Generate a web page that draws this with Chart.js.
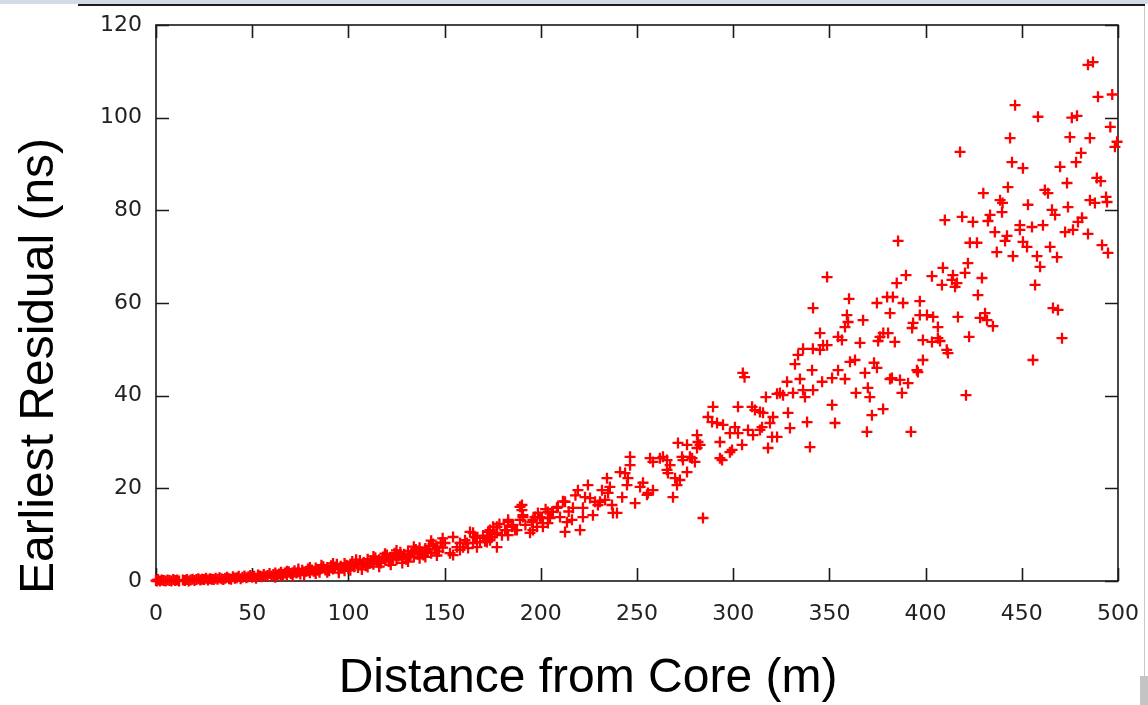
<!DOCTYPE html>
<html>
<head>
<meta charset="utf-8">
<script src="https://cdn.jsdelivr.net/npm/chart.js@4/dist/chart.umd.min.js"></script>
<style>
  html, body { margin: 0; padding: 0; background: #fff; }
  #wrap { position: relative; width: 1148px; height: 705px; overflow: hidden; }
  #topBand { position: absolute; left: 0; top: 0; width: 1148px; height: 4px; background: #d3dbe7; }
  #topRule { position: absolute; left: 78px; top: 4px; width: 1067px; height: 2px; background: #1e1e1e; }
  #rightEdge { position: absolute; left: 1144px; top: 6px; width: 1px; height: 699px; background: #c9c9c9; }
  #cornerBox { position: absolute; left: 1140px; top: 676px; width: 8px; height: 29px; background: #c4c4c4; }
  canvas { position: absolute; left: 0; top: 0; }
</style>
</head>
<body>
<div id="wrap">
  <canvas id="chart" width="1148" height="705"></canvas>
  <div id="topBand"></div>
  <div id="topRule"></div>
  <div id="rightEdge"></div>
  <div id="cornerBox"></div>
</div>
<script>
// distance from core (m), earliest residual (ns)
const innerPoints = [
  [0,0.1],[0.5,0],[1,0.3],[2,0],[3,0.2],[4,0.1],[5,0],[6,0.2],[7,0.1],[8,0],[9,0.3],[10,0.1],
  [11,0.2],[12,0],[14,0.2],[15,0.1],[16,0.3],[17,0],[18,0.2],[19,0.4],[20,0.1],[21,0.3],[22,0.5],
  [23,0.2],[24,0.4],[25,0.3],[26,0.6],[27,0.2],[28,0.5],[29,0.4],[30,0.3],[31,0.6],[32,0.4],
  [33,0.7],[34,0.5],[35,0.3],[36,0.6],[37,0.8],[38,0.5],[39,0.4],[40,0.9],[41,0.6],[42,0.7],
  [43,1.0],[44,0.5],[45,0.8],[46,1.1],[47,0.7],[48,0.9],[49,1.2],[50,0.8],[51,1.0],[52,0.6],
  [53,1.3],[54,1.1],[55,0.9],[56,1.4],[57,1.0],[58,1.2],[59,1.6],[60,1.1],[61,1.4],[62,1.7],
  [63,1.3],[64,1.5],[65,1.9],[66,1.4],[67,1.7],[68,1.3],[69,2.0],[70,1.6],[71,1.8],[72,2.2],
  [73,1.7],[74,2.0],[75,1.5],[76,2.3],[77,1.9],[78,2.1],[79,2.6],[80,1.8],[81,2.4],[82,2.1],
  [83,2.8],[84,2.3],[85,1.9],[86,2.7],[87,3.1],[88,2.4],[89,2.9],[90,2.2],[91,3.3],[92,2.6],
  [93,3.0],[94,3.6],[95,2.5],[96,3.2],[97,2.9],[98,3.8],[99,3.4],[100,2.7],[101,3.6],[102,4.2],
  [103,3.1],[104,3.9],[105,2.9],[106,4.4],[107,3.5],[108,4.0],[109,3.3],[110,4.7],[111,3.8],
  [112,4.3],[113,3.6],[114,5.0],[115,4.1],[116,4.6],[117,3.9],[118,5.2],[119,4.5],[120,5.6],
  [121,4.2],[122,5.1],[123,4.8],[124,6.0],[125,4.6],[126,5.4],[127,6.2],[128,5.0],[129,5.8],
  [130,4.7],[131,6.5],[132,5.5],[133,6.1],[134,5.2],[135,6.8],[136,5.8],[137,7.2],[138,6.3],
  [139,5.6],[140,7.0],[141,6.5],[142,7.6],[143,6.0],[144,8.0],[145,6.9],[146,7.4],[147,6.4],
  [148,8.3],[149,7.2],
  [62,0.8],[65,1.2],[68,2.1],[71,1.0],[74,2.6],[77,1.3],[80,2.9],[83,1.6],[86,3.4],[89,1.9],
  [92,3.8],[95,1.8],[98,2.2],[101,2.3],[104,4.6],[107,2.5],[110,3.0],[113,5.3],[116,3.1],
  [119,5.9],[122,3.5],[125,6.6],[128,3.9],[131,4.2],[134,7.4],[137,4.9],[140,5.2],[143,8.7],
  [146,5.5],[149,9.2]
];

const middlePoints = [
  [150.2,8.2],[152.8,6],[154.4,9.5],[154.4,5.6],[156.4,7.3],[158,8.2],[158,6.7],[159.6,7.3],
  [160.6,8.8],[161.6,8.2],[162.2,7.1],[163.2,10.6],[164.8,8.2],[164.8,10.4],[165.8,9.5],
  [166.8,9.3],[166.8,7.3],[168.4,8.4],[170,9.8],[171,8.6],[172,8.4],[172,9.3],[172.6,10.6],
  [173.6,11],[173.6,8.8],[174.6,9.5],[175.2,11.7],[176,10.2],[177.2,11.7],[177.2,7.3],
  [177.2,10.4],[178.5,12.3],[179.8,9.9],[181.4,11],[182.4,11],[183,12.7],[183,13.2],[183,9.9],
  [185,11.7],[185.6,12.1],[186.6,11],[187.6,11],[189.2,16],[189.2,13.2],[190.2,16.4],
  [190.2,15.3],[190.7,14.2],[190.7,13.8],[192,12.1],[194.4,10.4],[195.4,12.7],[195.9,13.2],
  [195.9,11],[197,13.8],[198,11.7],[198.5,14.7],[199.6,13.8],[200.6,13.6],[201.1,12.5],
  [201.1,11.7],[202.5,15.5],[203.7,14.9],[203.7,12.5],[204.8,13.6],[205.8,14.9],[206.3,14.9],
  [208.4,15.8],[208.9,16],[210,13.8],[211.5,17.2],[212.6,17.1],[212.6,10.6],[213.6,12.7],
  [214.5,15],[216.2,13.2],[216.7,15.8],[218,18.5],[219.3,19.6],[220.4,11],[221.9,15.8],
  [221.9,13.8],[223,18.1],[224.5,20.7],[225.6,17.9],[227.1,14.2],[228.2,17.1],[229.7,16.4],
  [230.8,17.1],[231.8,19.6],[233.4,17.5],[234.4,22.2],[235,19],[235.9,20.3],[237,16.4],
  [237.5,14.7],[239.6,14.7],[241.2,23.5],[242.3,18.1],[243.8,23.3],[244.8,20.7],[245.3,22.2],
  [246.4,26.8],[246.4,25],[249,16.8],[251.6,20.3],[253.1,21.2],[255.2,18.6],[255.7,19],
  [256.8,26.5],[258.3,25.7],[258.3,19.6],[261.9,26.5],[263.5,26.8],[265.6,26.1],[265.6,24],
  [266.1,23.3],[267.2,25],[268.7,18.1],[269.8,22.2],[270.8,20.7],[271.3,29.8],[272.3,21.8],
  [273.4,26.8],[273.9,26.1],[276,29.4],[276,23.5],[277.5,26.8],[278.6,26.5],[280.1,25.7],
  [281.2,31.5],[281.2,28.7],[281.7,30],[282.8,29.4],[284.3,13.6],[286.9,35.4],[289,34.3],
  [289.5,37.6],[291.6,34.1],[293.1,30],[293.1,26.5],[294.2,26.1],[294.7,33.7],[298.3,31.9],
  [298.3,27.8],[299.4,28.3]
];

const outerPoints = [
  [300.9,33.2],[302.5,37.6],[302.5,31.9],[304.6,29.4],[305,44.9],[305.9,44],[307.7,32.6],
  [309.8,37.6],[310.3,31.5],[311.3,36.9],[313.9,36.5],[313.9,32.6],[315,33.2],[315.5,36.3],
  [317,39.7],[318.1,28.7],[319.1,34.1],[320.2,31.1],[320.7,35.4],[322.8,31.1],[322.8,40.4],
  [324.3,40.6],[325.9,40.1],[328,43],[328.5,36.3],[329.5,33],[331.1,40.6],[332.1,46.8],
  [333.7,48.8],[334.7,43.6],[336.3,50.1],[336.3,41.2],[337.3,39.7],[338.4,34.3],[339.9,28.9],
  [341,45.5],[341.5,58.9],[341.5,41.2],[341.4,50.1],[345.1,53.5],[345.1,49.9],[346.2,43],
  [346.7,50.9],[348.8,65.6],[348.8,50.9],[351.4,43.8],[351.4,38],[352.9,34.1],[354.5,52.7],
  [354.5,45.5],[356.5,52],[358.1,54.8],[358.1,43.6],[359.1,57.4],[359.7,55.9],[360.2,60.9],
  [360.7,47.3],[363.3,47.7],[363.8,40.6],[365.9,51.4],[367.5,56.3],[368.5,44.9],[369.5,32.2],
  [370,41.7],[371,39.7],[372.1,35.8],[373.2,47.1],[374.7,60],[374.7,46],[375.3,51.8],
  [376.3,52.7],[377.9,37.1],[378,53.5],[380,61.3],[380.5,53.5],[381.5,57.8],[381.5,43.6],
  [382.5,43.8],[383,61.3],[384,51.6],[385,64.3],[385.7,73.4],[386.7,43.4],[387.7,40.6],
  [388.3,60],[389.8,66],[390.9,42.7],[392.4,32.2],[393,54.6],[393.5,55.7],[395.5,45.5],
  [396,45.1],[397,60.4],[397,57.4],[398.6,52],[398.6,47.7],[400.7,57.4],[403.3,65.8],
  [403.3,51.6],[403.9,57],[406.4,54.8],[406.4,52.4],[407.5,51.8],[408.5,63.9],[409,67.6],
  [410,77.9],[411,49.9],[411.6,49.2],[413.7,65],[414.2,66],[415.3,63.5],[416.3,64.3],
  [416.8,57],[417.9,92.6],[419,78.6],[420.5,66.5],[421,40.1],[422,68.6],[422.6,52.7],[423,73],
  [424.6,77.5],[426.7,73],[427.2,61.7],[428.3,56.8],[429.3,65.4],[430,83.7],[430.9,57.8],
  [431.9,56.3],[432.4,77.7],[433.5,79],[435,55],[436,75.3],[437,71],[438.7,82.2],[439.7,79.6],
  [440,81.6],[441.3,73.4],[442.3,74.5],[442.8,85],[443.9,95.6],[444.9,90.4],[445.4,70.1],
  [446.5,102.7],[449,76.8],[449,75.8],[450.6,89.1],[450.6,73.2],[452.7,72.1],[453.2,81.2],
  [455.3,76.4],[455.8,47.7],[456.9,63.9],[457.9,70.1],[458.4,100.2],[459.5,67.8],[461,76.8],
  [462,84.4],[463.6,83.7],[464.7,72.1],[465.7,80.1],[466.2,58.9],[467.3,79],[468.3,69.9],
  [468.8,58.5],[469.9,89.4],[470.9,52.4],[472.5,75.3],[473.5,85.9],[474,80.7],[475,95.8],
  [476,100],[476.6,75.8],[478.2,90.4],[478.7,100.4],[479.2,77.5],[480.8,92.4],[481.3,78.4],
  [484.4,111.4],[484.4,74.9],[485.4,95.6],[485.4,82.2],[487,112],[488,81.6],[489,87],
  [489.6,104.5],[491,86.3],[491.7,72.5],[493.8,82.9],[494.3,81.8],[494.8,70.8],[496,98],
  [497,105],[498.4,93.7],[499.5,94.8]
];

const xTicks = [0, 50, 100, 150, 200, 250, 300, 350, 400, 450, 500];
const yTicks = [0, 20, 40, 60, 80, 100, 120];

const xTitle = 'Distance from Core (m)';
const yTitle = 'Earliest Residual (ns)';

const allPoints = innerPoints.concat(middlePoints, outerPoints).map(p => ({ x: p[0], y: p[1] }));

// gnuplot style box with inward ticks on all four sides
const framePlugin = {
  id: 'frame',
  beforeDatasetsDraw(chart) {
    const { ctx, chartArea: a, scales: { x, y } } = chart;
    const len = 13;
    ctx.save();
    ctx.strokeStyle = '#1a1a1a';
    ctx.lineWidth = 1.6;
    ctx.strokeRect(a.left, a.top, a.width, a.height);
    ctx.beginPath();
    x.ticks.forEach(t => {
      const px = Math.round(x.getPixelForValue(t.value)) + 0.5;
      ctx.moveTo(px, a.bottom); ctx.lineTo(px, a.bottom - len);
      ctx.moveTo(px, a.top); ctx.lineTo(px, a.top + len);
    });
    y.ticks.forEach(t => {
      const py = Math.round(y.getPixelForValue(t.value)) + 0.5;
      ctx.moveTo(a.left, py); ctx.lineTo(a.left + len, py);
      ctx.moveTo(a.right, py); ctx.lineTo(a.right - len, py);
    });
    ctx.stroke();
    ctx.restore();
  },
  afterDraw(chart) {
    const { ctx, chartArea: a } = chart;
    ctx.save();
    ctx.fillStyle = '#000';
    ctx.font = '48px "Liberation Sans", Arial, sans-serif';
    ctx.textAlign = 'center';
    ctx.textBaseline = 'middle';
    ctx.fillText(xTitle, a.left + 432, a.bottom + 98);
    ctx.translate(40, a.top + 341);
    ctx.rotate(-Math.PI / 2);
    ctx.fillText(yTitle, 0, 0);
    ctx.restore();
  }
};

new Chart(document.getElementById('chart'), {
  type: 'scatter',
  data: {
    datasets: [{
      data: allPoints,
      pointStyle: 'cross',
      pointRadius: 5.5,
      pointHoverRadius: 5.5,
      borderColor: '#ff0000',
      backgroundColor: '#ff0000',
      pointBorderWidth: 2.3,
      clip: false
    }]
  },
  plugins: [framePlugin],
  options: {
    responsive: false,
    animation: false,
    devicePixelRatio: 1,
    layout: { padding: { left: 0, right: 30, top: 25, bottom: 0 } },
    plugins: { legend: { display: false }, tooltip: { enabled: false } },
    scales: {
      x: {
        type: 'linear',
        min: 0,
        max: 500,
        afterFit(scale) {
          scale.height = 124;
          scale.paddingLeft = 0;
          scale.paddingRight = 0;
        },
        afterBuildTicks(scale) { scale.ticks = xTicks.map(v => ({ value: v })); },
        grid: { display: false, drawTicks: false },
        border: { display: false },
        ticks: { padding: 20, color: '#222', font: { family: '"DejaVu Sans"', size: 22 } }
      },
      y: {
        type: 'linear',
        min: 0,
        max: 120,
        afterFit(scale) {
          scale.width = 156;
          scale.paddingTop = 0;
          scale.paddingBottom = 0;
        },
        afterBuildTicks(scale) { scale.ticks = yTicks.map(v => ({ value: v })); },
        grid: { display: false, drawTicks: false },
        border: { display: false },
        ticks: { padding: 14, color: '#222', font: { family: '"DejaVu Sans"', size: 22 } }
      }
    }
  }
});
</script>
</body>
</html>
